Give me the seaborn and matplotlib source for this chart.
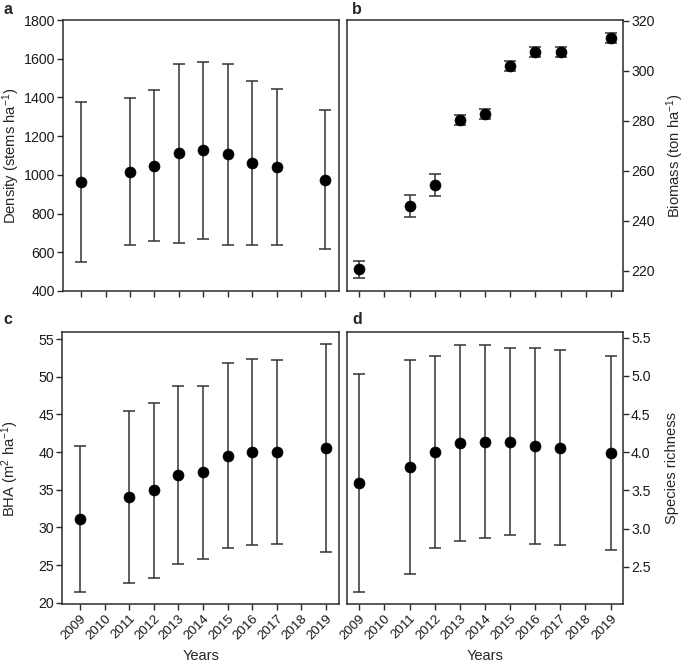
import numpy as np
import pandas as pd
import matplotlib
matplotlib.use("Agg")
import matplotlib.pyplot as plt
import seaborn as sns

years = [2009, 2011, 2012, 2013, 2014, 2015, 2016, 2017, 2019]
tick_years = list(range(2009, 2020))

density_mean = [962, 1016, 1047, 1112, 1126, 1106, 1062, 1043, 975]
density_err = [413, 380, 390, 462, 456, 467, 424, 403, 358]

biomass_mean = [220.5, 245.9, 254.2, 280.3, 282.5, 301.7, 307.4, 307.4, 313.1]
biomass_err = [3.3, 4.4, 4.5, 2.0, 2.0, 2.0, 2.1, 2.1, 2.1]

bha_mean = [31.1, 34.0, 34.9, 37.0, 37.3, 39.5, 40.0, 40.0, 40.5]
bha_err = [9.7, 11.4, 11.6, 11.8, 11.5, 12.3, 12.3, 12.2, 13.8]

rich_mean = [3.60, 3.81, 4.00, 4.12, 4.14, 4.14, 4.08, 4.06, 3.99]
rich_err = [1.43, 1.40, 1.26, 1.29, 1.26, 1.23, 1.28, 1.28, 1.27]

sns.set_style("ticks")
plt.rcParams['font.family'] = ['Liberation Sans', 'DejaVu Sans']
plt.rcParams['mathtext.fontset'] = 'custom'
plt.rcParams['mathtext.rm'] = 'Liberation Sans'
plt.rcParams['mathtext.it'] = 'Liberation Sans:italic'
plt.rcParams['mathtext.default'] = 'regular'

fig = plt.figure(figsize=(6.85, 6.63), dpi=100)
W, H = 685, 663

def axes_px(l, t, r, b):
    return fig.add_axes([l / W, 1 - b / H, (r - l) / W, (b - t) / H])

ax_a = axes_px(63.3, 20, 339.3, 291)
ax_b = axes_px(346.7, 20, 622.7, 291)
ax_c = axes_px(62.3, 332.3, 339.0, 604.3)
ax_d = axes_px(346.7, 332.3, 622.7, 604.3)

spine_col = '#2b2b2b'
err_col = '#333333'

panels = [
    (ax_a, density_mean, density_err, 'Density (stems ha$^{-1}$)', (400, 1800), np.arange(400, 1801, 200), 'left', (2008.27, 2019.57), False, -0.151),
    (ax_b, biomass_mean, biomass_err, 'Biomass (ton ha$^{-1}$)', (211.9, 320.2), np.arange(220, 321, 20), 'right', (2008.5, 2019.47), False, 1.150),
    (ax_c, bha_mean, bha_err, 'BHA (m$^{2}$ ha$^{-1}$)', (19.79, 55.89), np.arange(20, 56, 5), 'left', (2008.28, 2019.53), True, -0.149),
    (ax_d, rich_mean, rich_err, 'Species richness', (2.007, 5.571), np.arange(2.5, 5.51, 0.5), 'right', (2008.5, 2019.48), True, 1.153),
]

for i, (ax, m, e, ylab, ylim, yt, side, xlim, bottom, lx) in enumerate(panels):
    df = pd.DataFrame({'Year': years, 'val': m})
    ax.errorbar(years, m, yerr=e, fmt='none', ecolor=err_col, elinewidth=1.1,
                capsize=4, capthick=1.1, zorder=2)
    sns.scatterplot(data=df, x='Year', y='val', ax=ax, color='black', s=62,
                    edgecolor='black', linewidth=0.5, zorder=3, legend=False)
    ax.set_xlim(*xlim)
    ax.set_ylim(*ylim)
    ax.set_yticks(yt)
    if i == 3:
        ax.set_yticklabels([f'{v:.1f}' for v in yt])
    else:
        ax.set_yticklabels([f'{v:g}' for v in yt])
    ax.set_xticks(tick_years)
    if bottom:
        ax.set_xticklabels([str(y) for y in tick_years], rotation=45, ha='right',
                           rotation_mode='anchor', fontsize=9.6)
        ax.set_xlabel('Years', fontsize=10.5)
        ax.xaxis.set_label_coords(0.5, -0.165)
    else:
        ax.set_xticklabels([])
        ax.set_xlabel('')
    if side == 'right':
        ax.yaxis.tick_right()
        ax.yaxis.set_label_position('right')
    ax.set_ylabel(ylab, fontsize=10.6)
    ax.yaxis.set_label_coords(lx, 0.5)
    ax.tick_params(axis='both', direction='out', length=4, width=1, color=spine_col,
                   labelcolor='#1a1a1a', pad=2)
    ax.tick_params(axis='y', labelsize=10.2)
    for sp in ax.spines.values():
        sp.set_visible(True)
        sp.set_color(spine_col)
        sp.set_linewidth(1.1)
    ax.grid(False)

fig.text(3 / W, 1 - 9 / H, 'a', fontsize=11.5, fontweight='bold', va='center', ha='left')
fig.text(352 / W, 1 - 9 / H, 'b', fontsize=11.5, fontweight='bold', va='center', ha='left')
fig.text(3 / W, 1 - 319 / H, 'c', fontsize=11.5, fontweight='bold', va='center', ha='left')
fig.text(352 / W, 1 - 319 / H, 'd', fontsize=11.5, fontweight='bold', va='center', ha='left')

fig.savefig('out.png', dpi=100)
